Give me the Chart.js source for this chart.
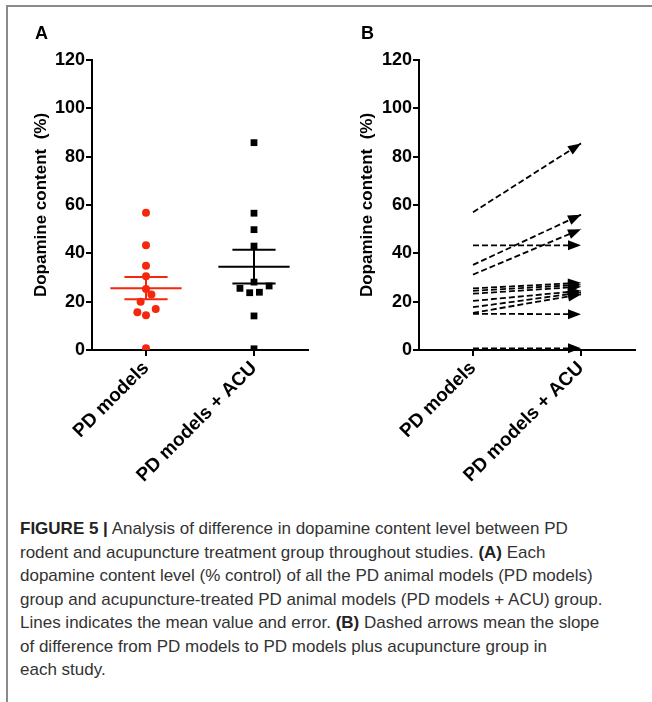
<!DOCTYPE html>
<html>
<head>
<meta charset="utf-8">
<script src="https://cdn.jsdelivr.net/npm/chart.js@4.4.0/dist/chart.umd.min.js"></script>
<style>
  html, body { margin: 0; padding: 0; background: #fff; }
  #page { position: relative; width: 652px; height: 702px; overflow: hidden; }
  #frame { position: absolute; left: 6px; top: 5px; width: 700px; height: 720px;
           border-left: 2px solid #8a8a8a; border-top: 2px solid #8a8a8a; }
  .wrap { position: absolute; top: 0; width: 326px; height: 500px; }
  .letter { position: absolute; top: 23px; font: bold 18px "Liberation Sans", Arial, sans-serif; color: #000; }
  #caption { position: absolute; left: 20px; top: 517px; white-space: nowrap;
             font: 17px "Liberation Sans", Arial, sans-serif;
             line-height: 23.5px; color: #333; }
  #caption b { color: #222; }
</style>
</head>
<body>
<div id="page">
  <div id="frame"></div>
  <div class="wrap" style="left:0"><canvas id="chartA" width="326" height="500"></canvas></div>
  <div class="wrap" style="left:326px"><canvas id="chartB" width="326" height="500"></canvas></div>
  <div class="letter" style="left:35px">A</div>
  <div class="letter" style="left:361px">B</div>
  <div id="caption"><b>FIGURE 5 |</b> Analysis of difference in dopamine content level between PD<br>rodent and acupuncture treatment group throughout studies. <b>(A)</b> Each<br>dopamine content level (% control) of all the PD animal models (PD models)<br>group and acupuncture-treated PD animal models (PD models + ACU) group.<br>Lines indicates the mean value and error. <b>(B)</b> Dashed arrows mean the slope<br>of difference from PD models to PD models plus acupuncture group in<br>each study.</div>
</div>

<script>
// groups on the x axis
var groups = ['PD models', 'PD models + ACU'];
var yTicks = [0, 20, 40, 60, 80, 100, 120];

// panel A: dopamine content (% control) per study
var pdModels = [56.8, 43.3, 34.9, 30.5, 25.2, 23.0, 20.0, 17.0, 15.6, 14.4, 0.7];
var pdSpread = [0, 0, 0, 0, 0, 0.05, -0.05, 0.09, -0.08, 0, 0];
var pdAcu = [85.8, 56.6, 49.8, 43.0, 28.1, 26.5, 25.5, 23.7, 23.9, 14.1, 0.5];
var acuSpread = [0, 0, 0, 0, 0, 0.14, -0.13, -0.04, 0.05, 0, 0];
var groupMean = [25.6, 34.5];
var groupSem = [4.6, 7.0];

// panel B: each study from PD models -> PD models + ACU
var slopeFrom = [57.0, 43.3, 35.2, 31.2, 25.5, 24.5, 23.3, 20.3, 17.7, 15.4, 15.0, 0.7];
var slopeTo = [85.5, 43.3, 56.0, 50.0, 27.8, 27.0, 26.2, 24.5, 23.8, 23.0, 14.8, 0.7];

var RED = '#f5270c';
var FONT = '"Liberation Sans", Arial, sans-serif';

function meanErrData(i) {
    var x = i + 1, m = groupMean[i], s = groupSem[i];
    var w = 0.33, c = 0.2;
    return [
        {x: x - w, y: m}, {x: x + w, y: m}, {x: x, y: null},
        {x: x - c, y: m + s}, {x: x + c, y: m + s}, {x: x, y: null},
        {x: x - c, y: m - s}, {x: x + c, y: m - s}, {x: x, y: null},
        {x: x, y: m + s}, {x: x, y: m - s}
    ];
}

var arrowPlugin = {
    id: 'arrows',
    afterDatasetsDraw: function (chart) {
        var ctx = chart.ctx;
        chart.data.datasets.forEach(function (ds, i) {
            if (!ds.arrow) return;
            var pts = chart.getDatasetMeta(i).data;
            var a = pts[0], b = pts[pts.length - 1];
            var ang = Math.atan2(b.y - a.y, b.x - a.x);
            var len = 13, half = 5;
            ctx.save();
            ctx.fillStyle = '#000';
            ctx.translate(b.x, b.y);
            ctx.rotate(ang);
            ctx.beginPath();
            ctx.moveTo(0, 0);
            ctx.lineTo(-len, -half);
            ctx.lineTo(-len, half);
            ctx.closePath();
            ctx.fill();
            ctx.restore();
        });
    }
};

function makeOptions(yWidth, padRight) {
    return {
        responsive: false,
        animation: false,
        layout: { padding: { top: 60, right: padRight, left: 0, bottom: 0 } },
        plugins: { legend: { display: false }, tooltip: { enabled: false } },
        scales: {
            x: {
                type: 'linear',
                min: 0.5,
                max: 2.5,
                afterBuildTicks: function (s) { s.ticks = [{value: 1}, {value: 2}]; },
                afterFit: function (s) { s.height = 150; },
                ticks: {
                    color: '#000',
                    font: { family: FONT, size: 19, weight: 'bold' },
                    minRotation: 45,
                    maxRotation: 45,
                    padding: 1,
                    callback: function (v) { return groups[v - 1]; }
                },
                grid: { drawOnChartArea: false, drawTicks: true, tickLength: 6, color: '#000', lineWidth: 2 },
                border: { display: true, color: '#000', width: 2 }
            },
            y: {
                min: 0,
                max: 120,
                afterBuildTicks: function (s) { s.ticks = yTicks.map(function (v) { return {value: v}; }); },
                afterFit: function (s) { s.width = yWidth; },
                ticks: {
                    color: '#000',
                    font: { family: FONT, size: 18, weight: 'bold' },
                    padding: 1
                },
                title: {
                    display: true,
                    text: 'Dopamine content  (%)',
                    color: '#000',
                    font: { family: FONT, size: 17, weight: 'bold' },
                    padding: { top: 31, bottom: 0 }
                },
                grid: { drawOnChartArea: false, drawTicks: true, tickLength: 6, color: '#000', lineWidth: 2 },
                border: { display: true, color: '#000', width: 2 }
            }
        }
    };
}

new Chart(document.getElementById('chartA'), {
    type: 'line',
    data: {
        datasets: [
            {
                data: pdModels.map(function (v, i) { return {x: 1 + pdSpread[i], y: v}; }),
                showLine: false,
                pointStyle: 'circle',
                pointRadius: 4,
                pointBackgroundColor: RED,
                pointBorderWidth: 0
            },
            {
                data: pdAcu.map(function (v, i) { return {x: 2 + acuSpread[i], y: v}; }),
                showLine: false,
                pointStyle: 'rect',
                pointRadius: 4.8,
                pointBackgroundColor: '#000',
                pointBorderWidth: 0
            },
            {
                data: meanErrData(0),
                borderColor: RED,
                borderWidth: 2,
                pointRadius: 0,
                spanGaps: false
            },
            {
                data: meanErrData(1),
                borderColor: '#000',
                borderWidth: 2,
                pointRadius: 0,
                spanGaps: false
            }
        ]
    },
    options: makeOptions(92, 18)
});

new Chart(document.getElementById('chartB'), {
    type: 'line',
    data: {
        datasets: slopeFrom.map(function (v, i) {
            return {
                data: [{x: 1, y: v}, {x: 2, y: slopeTo[i]}],
                borderColor: '#000',
                borderWidth: 1.8,
                borderDash: [6, 3],
                pointRadius: 0,
                arrow: true
            };
        })
    },
    options: makeOptions(93, 17),
    plugins: [arrowPlugin]
});
</script>
</body>
</html>
